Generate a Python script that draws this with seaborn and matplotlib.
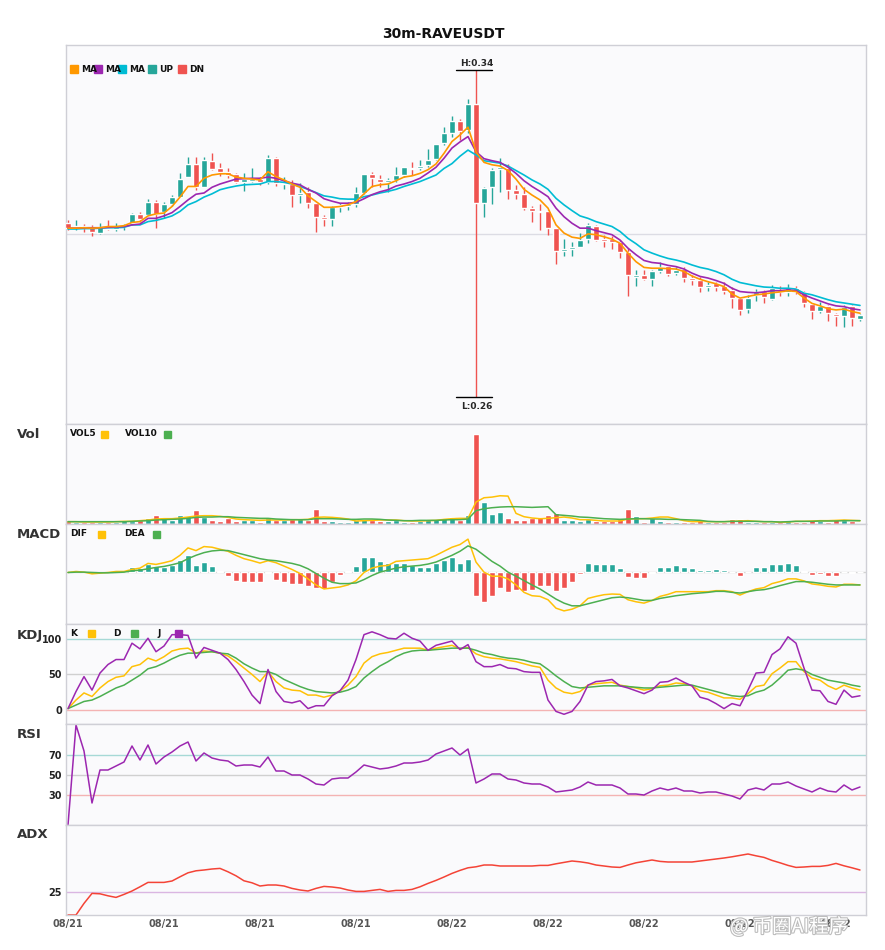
import numpy as np
import pandas as pd
import seaborn as sns
import matplotlib.pyplot as plt
import matplotlib.patheffects as pe
from matplotlib.patches import Rectangle

# ---------------- data: 100 x 30m candles ----------------
open_ = [.3027, .3017, .3020, .3017, .3002, .3015, .3012, .3017, .3027, .3049,
         .3046, .3078, .3054, .3073, .3091, .3139, .3171, .3115, .3179, .3162,
         .3152, .3147, .3127, .3130, .3135, .3127, .3186, .3122, .3122, .3095,
         .3103, .3076, .3042, .3037, .3066, .3069, .3073, .3100, .3147, .3135,
         .3127, .3132, .3144, .3162, .3162, .3169, .3184, .3223, .3247, .3277,
         .3254, .3318, .3076, .3115, .3159, .3162, .3108, .3098, .3064, .3056,
         .3056, .3015, .2958, .2963, .2968, .2988, .3020, .2988, .2988, .2980,
         .2956, .2895, .2900, .2890, .2909, .2922, .2905, .2914, .2892, .2887,
         .2870, .2880, .2873, .2863, .2843, .2816, .2851, .2861, .2841, .2863,
         .2858, .2868, .2858, .2829, .2812, .2824, .2804, .2799, .2824, .2792]
high = [.3034, .3034, .3024, .3022, .3027, .3034, .3027, .3024, .3051, .3054,
        .3086, .3083, .3078, .3095, .3149, .3188, .3188, .3188, .3198, .3174,
        .3162, .3149, .3149, .3162, .3139, .3193, .3188, .3139, .3132, .3125,
        .3115, .3076, .3046, .3069, .3076, .3078, .3115, .3147, .3152, .3144,
        .3137, .3164, .3164, .3176, .3181, .3208, .3220, .3262, .3289, .3281,
        .3330, .3400, .3115, .3162, .3186, .3171, .3120, .3115, .3069, .3073,
        .3059, .3015, .2988, .2980, .3002, .3027, .3022, .2998, .2995, .2985,
        .2966, .2912, .2912, .2912, .2931, .2924, .2919, .2919, .2900, .2895,
        .2883, .2883, .2883, .2870, .2843, .2851, .2865, .2863, .2875, .2873,
        .2878, .2873, .2861, .2831, .2834, .2826, .2807, .2826, .2826, .2804]
low = [.3010, .3010, .3005, .2995, .3000, .3010, .3007, .3010, .3022, .3029,
       .3046, .3015, .3039, .3069, .3091, .3139, .3108, .3115, .3157, .3142,
       .3137, .3125, .3105, .3127, .3120, .3122, .3117, .3110, .3066, .3076,
       .3064, .3005, .3020, .3020, .3054, .3059, .3066, .3098, .3115, .3115,
       .3103, .3127, .3139, .3144, .3157, .3164, .3181, .3218, .3237, .3230,
       .3247, .2600, .3042, .3073, .3103, .3086, .3086, .3059, .3029, .3010,
       .2998, .2927, .2946, .2946, .2968, .2978, .2983, .2968, .2963, .2941,
       .2848, .2873, .2887, .2873, .2905, .2897, .2900, .2883, .2875, .2858,
       .2861, .2861, .2853, .2819, .2802, .2807, .2836, .2831, .2838, .2848,
       .2848, .2853, .2821, .2792, .2807, .2787, .2775, .2772, .2775, .2787]
close = [.3015, .3020, .3015, .3005, .3017, .3012, .3017, .3022, .3049, .3037,
         .3078, .3049, .3073, .3091, .3135, .3171, .3115, .3181, .3159, .3152,
         .3144, .3127, .3135, .3135, .3127, .3186, .3125, .3125, .3095, .3100,
         .3076, .3042, .3037, .3066, .3071, .3073, .3100, .3147, .3137, .3127,
         .3132, .3144, .3164, .3159, .3166, .3181, .3220, .3247, .3277, .3252,
         .3318, .3076, .3113, .3157, .3164, .3108, .3098, .3064, .3056, .3054,
         .3015, .2958, .2963, .2968, .2985, .3022, .2985, .2983, .2980, .2956,
         .2900, .2900, .2890, .2909, .2919, .2902, .2912, .2892, .2887, .2870,
         .2875, .2870, .2861, .2843, .2814, .2843, .2858, .2846, .2868, .2858,
         .2868, .2858, .2831, .2812, .2824, .2807, .2799, .2821, .2794, .2802]

ma5 = [.3014, .3014, .3015, .3014, .3015, .3018, .3018, .3020, .3028, .3030,
       .3044, .3049, .3051, .3067, .3090, .3116, .3116, .3136, .3144, .3147,
       .3147, .3139, .3136, .3134, .3132, .3152, .3140, .3132, .3122, .3114,
       .3093, .3079, .3065, .3065, .3067, .3071, .3079, .3098, .3116, .3120,
       .3122, .3130, .3139, .3142, .3148, .3157, .3171, .3197, .3226, .3242,
       .3261, .3201, .3175, .3169, .3166, .3155, .3134, .3109, .3095, .3083,
       .3063, .3022, .3002, .2992, .2989, .3000, .2998, .2993, .2987, .2977,
       .2953, .2932, .2918, .2916, .2916, .2915, .2914, .2908, .2897, .2889,
       .2883, .2878, .2871, .2853, .2843, .2847, .2851, .2853, .2856, .2858,
       .2861, .2859, .2843, .2830, .2824, .2817, .2814, .2816, .2810, .2806]
ma10 = [.3014, .3014, .3015, .3015, .3015, .3016, .3017, .3018, .3022, .3024,
        .3038, .3038, .3044, .3052, .3067, .3083, .3097, .3100, .3114, .3122,
        .3128, .3134, .3135, .3136, .3136, .3139, .3136, .3130, .3124, .3120,
        .3109, .3100, .3086, .3080, .3075, .3075, .3077, .3086, .3096, .3103,
        .3108, .3117, .3122, .3128, .3136, .3149, .3163, .3185, .3210, .3225,
        .3238, .3201, .3184, .3179, .3175, .3163, .3148, .3130, .3116, .3104,
        .3091, .3063, .3042, .3026, .3014, .3014, .3008, .3003, .2998, .2985,
        .2965, .2949, .2935, .2930, .2928, .2923, .2920, .2914, .2904, .2896,
        .2892, .2886, .2879, .2867, .2859, .2857, .2856, .2858, .2861, .2861,
        .2863, .2861, .2851, .2843, .2836, .2829, .2824, .2822, .2817, .2814]
ma20 = [.3012, .3012, .3013, .3013, .3014, .3015, .3015, .3016, .3022, .3022,
        .3030, .3033, .3038, .3044, .3055, .3071, .3079, .3090, .3098, .3108,
        .3113, .3117, .3120, .3121, .3122, .3128, .3128, .3126, .3122, .3116,
        .3109, .3101, .3093, .3090, .3086, .3085, .3085, .3091, .3095, .3100,
        .3104, .3109, .3116, .3122, .3128, .3136, .3144, .3160, .3172, .3190,
        .3205, .3193, .3179, .3176, .3173, .3166, .3155, .3144, .3132, .3122,
        .3109, .3087, .3071, .3057, .3044, .3038, .3030, .3024, .3018, .3006,
        .2989, .2976, .2961, .2953, .2946, .2940, .2936, .2931, .2924, .2918,
        .2914, .2908, .2900, .2889, .2881, .2877, .2873, .2870, .2869, .2867,
        .2867, .2865, .2855, .2851, .2845, .2839, .2834, .2831, .2828, .2825]

# volume (k)
vol = [10, 7, 6, 6, 7, 6, 7, 13, 8, 13,
       19, 28, 19, 13, 28, 25, 43, 22, 13, 10,
       19, 10, 11, 11, 7, 19, 11, 11, 16, 19,
       13, 46, 10, 10, 5, 7, 11, 16, 13, 10,
       10, 11, 5, 7, 10, 16, 16, 19, 22, 13,
       26, 271, 65, 29, 35, 19, 13, 13, 17, 22,
       28, 34, 13, 13, 10, 16, 8, 8, 8, 14,
       46, 25, 7, 19, 10, 7, 5, 7, 7, 11,
       5, 5, 5, 16, 16, 7, 5, 5, 7, 5,
       10, 7, 7, 13, 8, 7, 16, 13, 10, 2]
vol5 = [7, 7, 6, 6, 6, 6, 7, 8, 8, 10,
        12, 15, 16, 16, 18, 21, 24, 25, 25, 23,
        20, 15, 13, 12, 11, 12, 12, 12, 13, 13,
        14, 20, 21, 20, 18, 15, 9, 10, 11, 12,
        12, 12, 10, 9, 9, 10, 11, 14, 16, 17,
        17, 66, 79, 81, 85, 84, 32, 22, 18, 16,
        17, 19, 21, 18, 13, 13, 11, 9, 9, 9,
        15, 16, 16, 18, 21, 21, 16, 10, 7, 7,
        7, 7, 7, 8, 9, 10, 8, 7, 7, 5,
        6, 8, 8, 9, 10, 10, 11, 12, 11, 10]
vol10 = [7, 7, 7, 7, 7, 7, 7, 7, 8, 9,
         10, 12, 13, 14, 15, 17, 20, 21, 21, 22,
         22, 20, 19, 18, 17, 17, 15, 14, 13, 13,
         13, 16, 16, 16, 15, 14, 14, 15, 15, 14,
         12, 11, 10, 10, 11, 11, 11, 12, 13, 13,
         15, 40, 46, 49, 51, 52, 52, 51, 50, 51,
         52, 28, 26, 24, 21, 20, 18, 16, 15, 14,
         15, 16, 16, 15, 15, 14, 14, 13, 12, 11,
         8, 7, 7, 8, 8, 8, 8, 7, 7, 6,
         7, 8, 8, 8, 9, 9, 9, 10, 10, 10]

# MACD, in units of 1e-5
dif = [0, 3, 1, -4, -2, 0, 3, 3, 9, 13,
       27, 24, 29, 35, 51, 73, 65, 77, 75, 69,
       63, 51, 41, 35, 28, 35, 29, 19, 9, -3,
       -19, -37, -49, -46, -43, -37, -25, 0, 13, 19,
       21, 33, 35, 37, 39, 41, 51, 63, 75, 83,
       99, 31, 1, -11, -11, -19, -37, -59, -69, -71,
       -81, -106, -114, -109, -99, -77, -71, -66, -64, -65,
       -81, -87, -91, -83, -71, -65, -57, -57, -57, -57,
       -57, -54, -54, -57, -67, -57, -49, -45, -33, -27,
       -19, -19, -25, -34, -37, -41, -43, -35, -35, -37]
dea = [0, 1, 1, 0, -1, -1, 0, 1, 5, 7,
       11, 15, 18, 23, 29, 41, 51, 59, 64, 66,
       65, 59, 53, 47, 41, 37, 35, 31, 27, 21,
       11, -3, -17, -29, -33, -33, -31, -21, -9, 1,
       7, 13, 17, 19, 21, 25, 31, 41, 51, 63,
       79, 69, 51, 33, 19, 1, -11, -24, -37, -49,
       -64, -79, -91, -99, -99, -93, -87, -81, -75, -73,
       -75, -79, -83, -83, -77, -73, -69, -66, -63, -61,
       -59, -56, -56, -59, -61, -57, -53, -51, -46, -39,
       -33, -27, -27, -29, -32, -35, -37, -37, -37, -37]
macd_hist = [0.5, 3, 2, -1, -0.5, 0, 2, 2, 15, 13,
             25, 18, 17, 21, 37, 51, 21, 31, 18, 4,
             -9, -24, -27, -27, -29, -2, -21, -27, -35, -35,
             -39, -47, -49, -27, -8, 3, 18, 45, 45, 33,
             27, 27, 27, 21, 15, 15, 27, 36, 45, 27,
             39, -69, -89, -69, -47, -57, -53, -54, -53, -41,
             -41, -56, -47, -29, -5, 27, 24, 24, 24, 12,
             -14, -17, -17, -2, 15, 15, 21, 15, 12, 6,
             6, 9, 6, 0.5, -11, 0.5, 15, 15, 24, 24,
             27, 21, 3, -8, -5, -11, -11, 0.5, -2, 0.5]

k_line = [2, 14, 24, 19, 31, 40, 46, 48, 61, 64,
          73, 69, 75, 83, 86, 87, 80, 83, 82, 80,
          76, 68, 59, 50, 40, 54, 40, 31, 28, 27,
          21, 21, 18, 21, 27, 35, 47, 66, 75, 79,
          81, 84, 87, 87, 87, 84, 87, 89, 91, 86,
          88, 79, 75, 73, 72, 70, 68, 65, 62, 60,
          42, 31, 25, 23, 26, 35, 37, 38, 39, 35,
          33, 31, 28, 30, 34, 35, 38, 37, 34, 27,
          25, 21, 17, 17, 15, 23, 33, 35, 51, 59,
          68, 68, 54, 45, 42, 34, 29, 35, 31, 28]
d_line = [2, 7, 12, 14, 19, 25, 31, 35, 42, 49,
          58, 61, 66, 72, 77, 80, 80, 81, 82, 80,
          79, 73, 65, 59, 54, 54, 50, 43, 38, 33,
          29, 26, 25, 24, 25, 28, 33, 45, 54, 62,
          68, 75, 80, 83, 84, 84, 85, 86, 87, 87,
          87, 84, 80, 78, 75, 73, 72, 70, 67, 65,
          57, 48, 40, 33, 31, 32, 33, 34, 34, 34,
          33, 32, 31, 31, 32, 33, 34, 35, 35, 32,
          29, 26, 23, 20, 19, 20, 25, 28, 35, 45,
          56, 58, 56, 50, 46, 42, 40, 38, 35, 33]
j_line = [2, 26, 47, 28, 52, 64, 71, 71, 94, 86,
          101, 82, 90, 106, 106, 105, 73, 88, 84, 80,
          71, 57, 40, 21, 9, 57, 26, 12, 10, 13,
          2, 6, 6, 20, 27, 42, 71, 106, 110, 106,
          101, 100, 108, 101, 97, 84, 91, 94, 97, 85,
          92, 68, 61, 61, 64, 59, 58, 54, 53, 53,
          14, -2, -6, -2, 12, 35, 40, 41, 43, 34,
          31, 27, 23, 28, 39, 40, 45, 39, 34, 18,
          15, 9, 2, 9, 6, 28, 52, 53, 78, 86,
          103, 94, 59, 28, 27, 12, 8, 28, 18, 20]

rsi = [0, 100, 74, 22, 55, 55, 59, 63, 79, 65,
       80, 61, 68, 73, 79, 83, 64, 72, 67, 65,
       64, 59, 60, 60, 58, 68, 54, 54, 50, 50,
       46, 41, 40, 46, 47, 47, 53, 60, 58, 56,
       57, 59, 62, 62, 63, 65, 71, 74, 77, 70,
       76, 42, 46, 51, 51, 46, 45, 42, 41, 41,
       38, 33, 34, 35, 38, 43, 40, 40, 40, 37,
       31, 31, 30, 34, 37, 35, 37, 34, 34, 32,
       33, 33, 31, 29, 26, 35, 37, 35, 41, 41,
       43, 39, 36, 33, 37, 34, 33, 40, 35, 38]

adx = [13.7, 13.7, 19.5, 24.5, 24.3, 23.3, 22.5, 24.0, 25.7, 27.8,
       30.0, 30.0, 30.0, 30.7, 32.8, 34.8, 35.8, 36.2, 36.7, 37.0,
       35.3, 33.3, 30.8, 29.8, 28.2, 28.7, 28.7, 28.2, 27.0, 26.2,
       25.7, 27.0, 28.0, 27.7, 27.2, 26.2, 25.5, 25.5, 26.0, 26.5,
       25.5, 26.0, 26.0, 26.5, 27.8, 29.5, 31.0, 32.7, 34.5, 36.0,
       37.3, 37.8, 38.7, 38.7, 38.2, 38.2, 38.2, 38.2, 38.2, 38.5,
       38.5, 39.3, 40.0, 40.7, 40.3, 39.7, 38.7, 38.2, 37.7, 37.5,
       38.7, 39.8, 40.5, 41.2, 40.5, 40.2, 40.2, 40.2, 40.2, 40.7,
       41.2, 41.7, 42.2, 42.8, 43.5, 44.2, 43.3, 42.5, 41.0, 39.8,
       38.5, 37.5, 37.7, 38.0, 38.0, 38.5, 39.5, 38.3, 37.3, 36.2]

x_tick_pos = [0, 12, 24, 36, 48, 60, 72, 84, 96]
x_tick_lbl = ['08/21', '08/21', '08/21', '08/21',
              '08/22', '08/22', '08/22', '08/22', '08/22']

UP = '#26a69a'
DN = '#ef5350'
C_MA5, C_MA10, C_MA20 = '#ff9800', '#9c27b0', '#00bcd4'
C_Y, C_G, C_P = '#ffc107', '#4caf50', '#9c27b0'

W, H = 885, 950


def fx(px):
    return px / W


def fy(py):
    return 1 - py / H


def key_square(fig, x, y, color, size=8):
    fig.add_artist(Rectangle((fx(x), fy(y + size / 2)), size / W, size / H,
                             transform=fig.transFigure, color=color, zorder=10))


def key_text(fig, x, y, s):
    fig.text(fx(x), fy(y), s, fontsize=6.5, fontweight='bold', color='#111',
             va='center', ha='left', zorder=11)


def style_panel(ax, xlim):
    ax.set_facecolor('#fafafc')
    for sp in ax.spines.values():
        sp.set_color('#cfcfd6')
        sp.set_linewidth(1)
    ax.set_xlim(*xlim)
    ax.set_xticks([])
    ax.set_yticks([])
    ax.set_xlabel('')
    ax.set_ylabel('')


def bold_yticks(ax, ticks):
    ax.set_yticks(ticks)
    ax.set_yticklabels([str(t) for t in ticks])
    ax.tick_params(axis='y', length=0, labelsize=7, pad=3, labelcolor='#222')
    for lbl in ax.get_yticklabels():
        lbl.set_fontweight('bold')


def main():
    sns.set_style('white')
    plt.rcParams['font.family'] = ['DejaVu Sans', 'Noto Sans CJK SC']

    df = pd.DataFrame({
        'i': np.arange(len(close)), 'open': open_, 'high': high, 'low': low,
        'close': close, 'ma5': ma5, 'ma10': ma10, 'ma20': ma20,
        'vol': vol, 'vol5': vol5, 'vol10': vol10,
        'dif': np.array(dif) * 1e-5, 'dea': np.array(dea) * 1e-5,
        'hist': np.array(macd_hist) * 1e-5,
        'k': k_line, 'd': d_line, 'j': j_line, 'rsi': rsi, 'adx': adx,
    })
    df['up'] = df['close'] >= df['open']
    cols = np.where(df['up'], UP, DN)
    xlim = (-0.25, 99.75)

    fig = plt.figure(figsize=(W / 100, H / 100), dpi=100)
    left, width = fx(66), 800 / W

    def panel(top, bottom):
        return fig.add_axes([left, fy(bottom), width, (bottom - top) / H])

    ax_p = panel(45, 424)
    ax_v = panel(424, 524)
    ax_m = panel(524, 624)
    ax_k = panel(624, 724)
    ax_r = panel(724, 825)
    ax_a = panel(825, 915)

    # ---------------- price panel ----------------
    ax_p.axhline(0.30, color='#dcdce4', lw=1, zorder=0)
    ax_p.vlines(df['i'], df['low'], df['high'], colors=cols, lw=1, zorder=2)
    body = np.maximum((df['close'] - df['open']).abs(), 0.00022)
    ax_p.bar(df['i'], body, bottom=np.minimum(df['open'], df['close']),
             width=0.72, color=cols, zorder=3)
    for name, c in [('ma20', C_MA20), ('ma10', C_MA10), ('ma5', C_MA5)]:
        sns.lineplot(data=df, x='i', y=name, ax=ax_p, color=c, lw=1.2, zorder=4)
    ih = int(df['high'].idxmax())
    il = int(df['low'].idxmin())
    hv, lv = df['high'][ih], df['low'][il]
    ax_p.plot([ih - 2.5, ih + 2], [hv, hv], color='black', lw=1, zorder=5)
    ax_p.plot([il - 2.5, il + 2], [lv, lv], color='black', lw=1, zorder=5)
    ax_p.annotate(f'H:{hv:.2f}', (ih + 0.1, hv), xytext=(0, 2), textcoords='offset points',
                  ha='center', va='bottom', fontsize=6.5, fontweight='bold')
    ax_p.annotate(f'L:{lv:.2f}', (il + 0.1, lv), xytext=(0, -3), textcoords='offset points',
                  ha='center', va='top', fontsize=6.5, fontweight='bold')
    style_panel(ax_p, xlim)
    ax_p.set_ylim(0.2535, 0.3462)

    # ---------------- volume ----------------
    ax_v.bar(df['i'], df['vol'], width=0.72, color=cols, zorder=2)
    sns.lineplot(data=df, x='i', y='vol5', ax=ax_v, color=C_Y, lw=1.1, zorder=3)
    sns.lineplot(data=df, x='i', y='vol10', ax=ax_v, color=C_G, lw=1.1, zorder=3)
    style_panel(ax_v, xlim)
    ax_v.set_ylim(0, 301)

    # ---------------- MACD ----------------
    ax_m.axhline(0, color='#d2d2d2', lw=1, zorder=0)
    ax_m.bar(df['i'], df['hist'], width=0.72,
             color=np.where(df['hist'] >= 0, UP, DN), zorder=2)
    sns.lineplot(data=df, x='i', y='dif', ax=ax_m, color=C_Y, lw=1.1, zorder=3)
    sns.lineplot(data=df, x='i', y='dea', ax=ax_m, color=C_G, lw=1.1, zorder=3)
    style_panel(ax_m, xlim)
    ax_m.set_ylim(-153e-5, 144e-5)

    # ---------------- KDJ ----------------
    ax_k.axhline(100, color='#a6d9d6', lw=1, zorder=0)
    ax_k.axhline(50, color='#d0d0d0', lw=1, zorder=0)
    ax_k.axhline(0, color='#f4b3b3', lw=1, zorder=0)
    sns.lineplot(data=df, x='i', y='k', ax=ax_k, color=C_Y, lw=1.1)
    sns.lineplot(data=df, x='i', y='d', ax=ax_k, color=C_G, lw=1.1)
    sns.lineplot(data=df, x='i', y='j', ax=ax_k, color=C_P, lw=1.1)
    style_panel(ax_k, xlim)
    ax_k.set_ylim(-19.7, 121)
    bold_yticks(ax_k, [0, 50, 100])

    # ---------------- RSI ----------------
    ax_r.axhline(70, color='#a6d9d6', lw=1, zorder=0)
    ax_r.axhline(50, color='#d0d0d0', lw=1, zorder=0)
    ax_r.axhline(30, color='#f4b3b3', lw=1, zorder=0)
    sns.lineplot(data=df, x='i', y='rsi', ax=ax_r, color=C_P, lw=1.1)
    style_panel(ax_r, xlim)
    ax_r.set_ylim(0, 101)
    bold_yticks(ax_r, [30, 50, 70])

    # ---------------- ADX ----------------
    ax_a.axhline(25, color='#dab6e2', lw=1, zorder=0)
    sns.lineplot(data=df, x='i', y='adx', ax=ax_a, color='#f44336', lw=1.1)
    style_panel(ax_a, xlim)
    ax_a.set_ylim(13.7, 58.7)
    bold_yticks(ax_a, [25])
    ax_a.set_xticks(x_tick_pos)
    ax_a.set_xticklabels(x_tick_lbl)
    ax_a.tick_params(axis='x', length=0, labelsize=7, pad=3, labelcolor='#555')
    for lbl in ax_a.get_xticklabels():
        lbl.set_fontweight('bold')

    # ---------------- titles and keys ----------------
    fig.text(fx(443), fy(34), '30m-RAVEUSDT', ha='center', va='center',
             fontsize=10, fontweight='bold', color='#111')
    for name, py in [('Vol', 434), ('MACD', 535), ('KDJ', 635), ('RSI', 735), ('ADX', 835)]:
        fig.text(fx(17), fy(py), name, ha='left', va='center',
                 fontsize=9.5, fontweight='bold', color='#333')

    for px, c, s in [(70, C_MA5, 'MA'), (94, C_MA10, 'MA'), (118, C_MA20, 'MA'),
                     (148, UP, 'UP'), (178, DN, 'DN')]:
        key_text(fig, px + 11, 69, s)
        key_square(fig, px, 69, c)

    key_text(fig, 70, 434, 'VOL5')
    key_square(fig, 101, 434, C_Y, 7)
    key_text(fig, 125, 434, 'VOL10')
    key_square(fig, 164, 434, C_G, 7)

    key_text(fig, 70, 534, 'DIF')
    key_square(fig, 98, 534, C_Y, 7)
    key_text(fig, 124, 534, 'DEA')
    key_square(fig, 153, 534, C_G, 7)

    key_text(fig, 70, 633, 'K')
    key_square(fig, 88, 633, C_Y, 7)
    key_text(fig, 113, 633, 'D')
    key_square(fig, 131, 633, C_G, 7)
    key_text(fig, 157, 633, 'J')
    key_square(fig, 175, 633, C_P, 7)

    # watermark of the source image
    fig.text(fx(730), fy(927), '@ 币圈AI程序', ha='left', va='center', fontsize=14,
             color='white', family=['Noto Sans CJK SC', 'DejaVu Sans'],
             path_effects=[pe.withStroke(linewidth=1.6, foreground='#bdbdbd')])

    fig.savefig('out.png', dpi=100, facecolor='white')


if __name__ == '__main__':
    main()
